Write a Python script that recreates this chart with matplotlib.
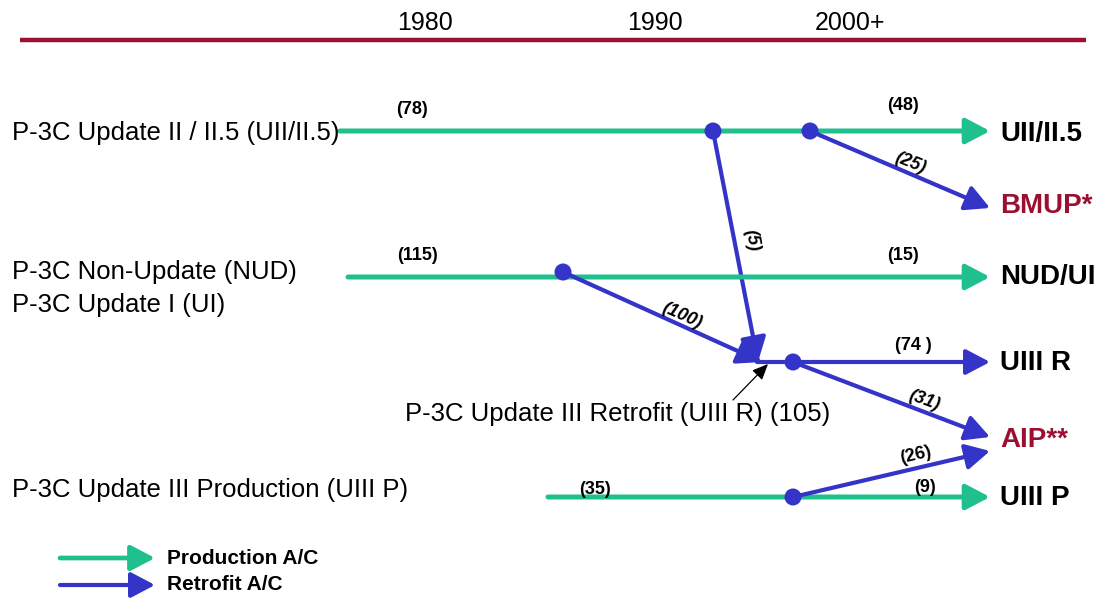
import matplotlib
matplotlib.use("Agg")
import matplotlib.pyplot as plt

plt.rcParams['font.family'] = ['Liberation Sans', 'DejaVu Sans']

GREEN = "#1fc08e"
BLUE = "#3434c8"
DRED = "#9b1030"

# timeline header
years = ["1980", "1990", "2000+"]
year_x = [425, 655, 850]

# program rows (left labels)
left_labels = ["P-3C Update II / II.5 (UII/II.5)", "P-3C Non-Update (NUD)",
               "P-3C Update I (UI)", "P-3C Update III Production (UIII P)"]
left_y = [133, 272, 305, 490]

# end-state labels
end_labels = ["UII/II.5", "BMUP*", "NUD/UI", "UIII R", "AIP**", "UIII P"]
end_y = [134, 206, 277, 363, 440, 498]
end_colors = ["black", DRED, "black", "black", DRED, "black"]

# flows: (x0, y0, x1, y1, kind)
flows_x0 = [340, 810, 713, 348, 563, 757, 793, 548, 793]
flows_y0 = [131, 131, 131, 277, 272, 362, 362, 497, 497]
flows_x1 = [990, 990, 758, 990, 762, 990, 990, 990, 990]
flows_y1 = [131, 208, 362, 277, 362, 362, 437, 497, 451]
flows_kind = ["P", "R", "R", "P", "R", "R", "R", "P", "R"]

# branch points
dots_x = [713, 810, 563, 793, 793]
dots_y = [131, 131, 272, 362, 497]

# counts
count_text = ["(78)", "(48)", "(25)", "(5)", "(115)", "(15)", "(100)", "(74 )",
              "(31)", "(35)", "(9)", "(26)"]
count_x = [412, 903, 910, 752, 418, 903, 682, 913, 924, 595, 925, 916]
count_y = [110, 106, 163, 240, 256, 256, 316, 346, 400, 489, 488, 455]
count_rot = [0, 0, -22, -80, 0, 0, -24, 0, -20, 0, 0, 13]
count_italic = [False, False, True, True, False, False, True, False, True,
                False, False, False]

legend_labels = ["Production A/C", "Retrofit A/C"]
legend_y = [558, 585]

fig = plt.figure(figsize=(11.03, 5.98), dpi=100)
ax = fig.add_axes([0, 0, 1, 1])
ax.set_xlim(0, 1103)
ax.set_ylim(598, 0)
ax.axis("off")

# header
ax.plot([20, 1086], [40, 40], color=DRED, lw=3.2, solid_capstyle="butt")
for t, x in zip(years, year_x):
    ax.text(x, 23, t, ha="center", va="center", fontsize=18, color="black")

def arrow(x0, y0, x1, y1, color, lw, ms=15.5):
    ax.annotate("", xy=(x1, y1), xytext=(x0, y0),
                arrowprops=dict(arrowstyle="-|>,head_length=0.95,head_width=0.5",
                                color=color, lw=lw, shrinkA=0, shrinkB=0,
                                mutation_scale=ms), zorder=3)

for x0, y0, x1, y1, k in zip(flows_x0, flows_y0, flows_x1, flows_y1, flows_kind):
    if k == "P":
        arrow(x0, y0, x1, y1, GREEN, 3.6)
    else:
        arrow(x0, y0, x1, y1, BLUE, 3.0)

ax.scatter(dots_x, dots_y, s=150, color=BLUE, zorder=5, edgecolors="none")

for t, y in zip(left_labels, left_y):
    ax.text(12, y, t, ha="left", va="center", fontsize=18.5, color="black")

for t, y, c in zip(end_labels, end_y, end_colors):
    ax.text(1000, y, t, ha="left", va="center", fontsize=20, fontweight="bold", color=c)

for t, x, y, r, it in zip(count_text, count_x, count_y, count_rot, count_italic):
    ax.text(x, y, t, ha="center", va="center", fontsize=13, fontweight="bold",
            rotation=r, rotation_mode="anchor",
            fontstyle="italic" if it else "normal", color="black")

# annotation for retrofit pool
ax.annotate("", xy=(768, 364), xytext=(733, 400),
            arrowprops=dict(arrowstyle="-|>,head_length=0.8,head_width=0.35",
                            color="black", lw=0.9, shrinkA=0, shrinkB=0,
                            mutation_scale=12))
ax.text(618, 414, "P-3C Update III Retrofit (UIII R) (105)", ha="center",
        va="center", fontsize=18.5, color="black")

# legend
for lab, y, c in zip(legend_labels, legend_y, [GREEN, BLUE]):
    arrow(60, y, 155, y, c, 3.4 if c == GREEN else 3.0)
    ax.text(167, y, lab, ha="left", va="center", fontsize=15,
            fontweight="bold", color="black")

fig.savefig("out.png", dpi=100, facecolor="white")
